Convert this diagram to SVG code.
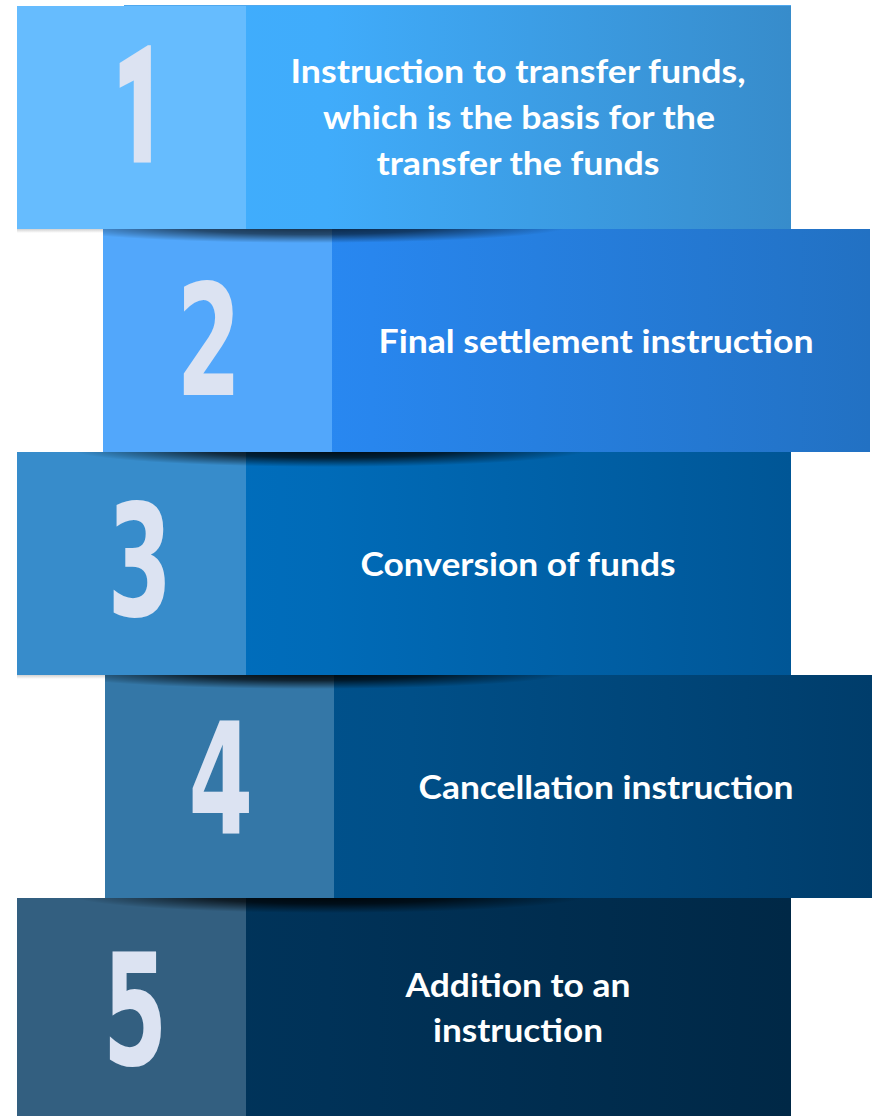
<svg xmlns="http://www.w3.org/2000/svg" width="873" height="1116" viewBox="0 0 873 1116">
  <style>
    .num { font-family: "DejaVu Sans", "Liberation Sans", sans-serif; font-weight: bold; font-size: 155px; fill: #DCE3F2; text-anchor: middle; }
    .one { font-family: Roboto, "Open Sans", sans-serif; font-size: 158px; font-weight: 900; stroke: #DCE3F2; stroke-width: 5; }
    .lbl { font-family: Lato, "Open Sans", "Liberation Sans", sans-serif; font-weight: bold; font-size: 32px; fill: #FFFFFF; text-anchor: middle; }
  </style>
  <defs>
    <linearGradient id="g1" x1="0" y1="0" x2="1" y2="0">
      <stop offset="0" stop-color="#40AEFF"/><stop offset="0.4" stop-color="#40ACFB"/><stop offset="1" stop-color="#378CCB"/>
    </linearGradient>
    <linearGradient id="g2" x1="0" y1="0" x2="1" y2="0">
      <stop offset="0" stop-color="#2A90FF"/><stop offset="0.35" stop-color="#2886EE"/><stop offset="1" stop-color="#2271C3"/>
    </linearGradient>
    <linearGradient id="g3" x1="0" y1="0" x2="1" y2="0">
      <stop offset="0" stop-color="#0072C5"/><stop offset="0.4" stop-color="#006BB8"/><stop offset="1" stop-color="#005696"/>
    </linearGradient>
    <linearGradient id="g4" x1="0" y1="0" x2="1" y2="0">
      <stop offset="0" stop-color="#005592"/><stop offset="0.4" stop-color="#004F88"/><stop offset="1" stop-color="#003D6B"/>
    </linearGradient>
    <linearGradient id="g5" x1="0" y1="0" x2="1" y2="0">
      <stop offset="0" stop-color="#00375F"/><stop offset="0.4" stop-color="#003258"/><stop offset="1" stop-color="#002846"/>
    </linearGradient>
    <radialGradient id="sh">
      <stop offset="0" stop-color="#000" stop-opacity="0.95"/>
      <stop offset="0.5" stop-color="#000" stop-opacity="0.7"/>
      <stop offset="1" stop-color="#000" stop-opacity="0"/>
    </radialGradient>
    <linearGradient id="gs" x1="0" y1="0" x2="0" y2="1">
      <stop offset="0" stop-color="#000" stop-opacity="0.18"/>
      <stop offset="1" stop-color="#000" stop-opacity="0"/>
    </linearGradient>
    <clipPath id="c2"><rect x="103" y="229" width="767" height="223"/></clipPath>
    <clipPath id="c3"><rect x="17" y="452" width="774" height="223"/></clipPath>
    <clipPath id="c4"><rect x="105" y="675" width="767" height="223"/></clipPath>
    <clipPath id="c5"><rect x="17" y="898" width="774" height="218"/></clipPath>
  </defs>

  <rect x="0" y="0" width="873" height="1116" fill="#FFFFFF"/>

  <g id="row1">
    <rect x="124" y="5" width="667" height="1" fill="#4FA8EE"/>
    <rect x="17" y="6" width="774" height="223" fill="url(#g1)"/>
    <rect x="17" y="6" width="229" height="223" fill="#66BCFE"/>
    <text class="num one" transform="scale(0.55,1)" x="253" y="160">1</text>
    <text class="lbl" x="518" y="83" textLength="455" lengthAdjust="spacingAndGlyphs">Instruction to transfer funds,</text>
    <text class="lbl" x="519" y="129" textLength="392" lengthAdjust="spacingAndGlyphs">which is the basis for the</text>
    <text class="lbl" x="518" y="175" textLength="283" lengthAdjust="spacingAndGlyphs">transfer the funds</text>
  </g>

  <g id="row2">
    <rect x="103" y="229" width="767" height="223" fill="url(#g2)"/>
    <rect x="103" y="229" width="229" height="223" fill="#52A7FB"/>
    <text class="num" transform="scale(0.6,1)" x="348" y="395">2</text>
    <text class="lbl" x="596" y="353" textLength="435" lengthAdjust="spacingAndGlyphs">Final settlement instruction</text>
  </g>

  <g id="row3">
    <rect x="17" y="452" width="774" height="223" fill="url(#g3)"/>
    <rect x="17" y="452" width="229" height="223" fill="#378CCB"/>
    <text class="num" transform="scale(0.6,1)" x="233" y="616">3</text>
    <text class="lbl" x="518" y="576" textLength="315" lengthAdjust="spacingAndGlyphs">Conversion of funds</text>
  </g>

  <g id="row4">
    <rect x="105" y="675" width="767" height="223" fill="url(#g4)"/>
    <rect x="105" y="675" width="229" height="223" fill="#3477A7"/>
    <text class="num" transform="scale(0.6,1)" x="368" y="834">4</text>
    <text class="lbl" x="606" y="799" textLength="375" lengthAdjust="spacingAndGlyphs">Cancellation instruction</text>
  </g>

  <g id="row5">
    <rect x="17" y="898" width="774" height="218" fill="url(#g5)"/>
    <rect x="17" y="898" width="229" height="218" fill="#335F80"/>
    <text class="num" transform="scale(0.6,1)" x="225" y="1065">5</text>
    <text class="lbl" x="518" y="997" textLength="225" lengthAdjust="spacingAndGlyphs">Addition to an</text>
    <text class="lbl" x="518" y="1042" textLength="170" lengthAdjust="spacingAndGlyphs">instruction</text>
  </g>

  <g id="shadows">
    <ellipse cx="310" cy="226" rx="260" ry="17" fill="url(#sh)" clip-path="url(#c2)" opacity="0.8"/>
    <ellipse cx="330" cy="449" rx="260" ry="18" fill="url(#sh)" clip-path="url(#c3)"/>
    <ellipse cx="310" cy="672" rx="260" ry="17" fill="url(#sh)" clip-path="url(#c4)"/>
    <ellipse cx="330" cy="895" rx="260" ry="18" fill="url(#sh)" clip-path="url(#c5)"/>
    <rect x="17" y="229" width="86" height="4" fill="url(#gs)"/>
    <rect x="17" y="675" width="88" height="4" fill="url(#gs)"/>
  </g>
</svg>
